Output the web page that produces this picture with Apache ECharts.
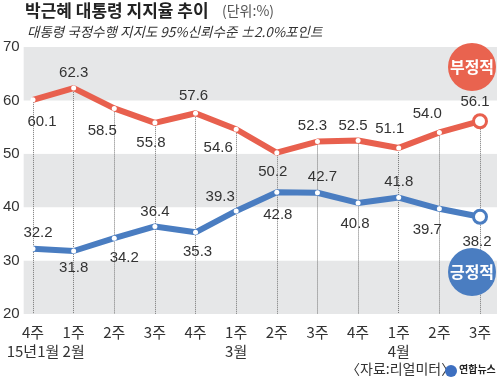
<!DOCTYPE html>
<html><head><meta charset="utf-8">
<script src="https://cdn.jsdelivr.net/npm/echarts@6/dist/echarts.min.js"></script>
<style>html,body{margin:0;padding:0;background:#fff}#c{width:500px;height:381px}</style>
</head><body><div id="c"></div>
<script>
const weeks = ['4주','1주','2주','3주','4주','1주','2주','3주','4주','1주','2주','3주'];
const months = ['15년1월','2월','','','','3월','','','','4월','',''];
const negative = [60.1, 62.3, 58.5, 55.8, 57.6, 54.6, 50.2, 52.3, 52.5, 51.1, 54.0, 56.1];
const positive = [32.2, 31.8, 34.2, 36.4, 35.3, 39.3, 42.8, 42.7, 40.8, 41.8, 39.7, 38.2];
const yTicks = [20, 30, 40, 50, 60, 70];

// label offsets (styling)
const negOff = [[9,22],[0,-15],[-12,22],[-4,20],[-2,-17],[-18,19],[-4,19],[-5,-16],[-5,-15],[-9,-19],[-12,-19],[-5,-19]];
const posOff = [[5,-16],[0,17],[10,20],[0,-15],[2,20],[-16,-14],[1,23],[5,-16],[-3,21],[0,-16],[-12,21],[-3,25]];

const RED = '#e8604e', BLUE = '#4a7dc1';
const numFont = '"Liberation Sans", Arial, sans-serif';
const krFont = '"Noto Sans CJK KR", sans-serif';

function mk(vals, offs, color) {
  return vals.map((v, i) => {
    const last = i === vals.length - 1;
    return {
      value: v,
      symbolSize: last ? 13 : 5,
      itemStyle: last ? {color: '#fff', borderColor: color, borderWidth: 3} : {color: '#fff', borderWidth: 0},
      label: {show: true, position: 'inside', offset: offs[i], formatter: v.toFixed(1),
        color: '#333', fontSize: 15, fontFamily: numFont}
    };
  });
}

const chart = echarts.init(document.getElementById('c'));
chart.setOption({
  animation: false,
  grid: [
    {left: 23, right: 3, top: 47, bottom: 67},
    {left: 33, right: 20, top: 47, bottom: 67}
  ],
  xAxis: [
    {gridIndex: 0, type: 'category', data: weeks, show: false},
    {gridIndex: 1, type: 'category', boundaryGap: false,
     data: weeks.map((w, i) => months[i] ? w + '\n' + months[i] : w),
     axisLine: {show: false}, axisTick: {show: false},
     axisLabel: {interval: 0, margin: 9, color: '#333', fontSize: 15, lineHeight: 19, fontFamily: krFont}}
  ],
  yAxis: [
    {gridIndex: 0, type: 'value', min: yTicks[0], max: yTicks[yTicks.length-1], interval: 10,
     axisLine: {show: false}, axisTick: {show: false}, splitLine: {show: false},
     splitArea: {show: true, areaStyle: {color: ['#e6e7e8', '#ffffff']}},
     axisLabel: {margin: 4, color: '#333', fontSize: 15, fontFamily: numFont, verticalAlign: 'middle'}},
    {gridIndex: 1, type: 'value', min: yTicks[0], max: yTicks[yTicks.length-1], interval: 10, show: false}
  ],
  series: [
    {type: 'line', xAxisIndex: 1, yAxisIndex: 1, data: negative, symbol: 'none',
     lineStyle: {opacity: 0}, silent: true, z: 1, zlevel: 0,
     markLine: {silent: true, symbol: 'none', label: {show: false}, z: 1,
       lineStyle: {color: '#777', type: 'dotted', width: 1},
       data: negative.map((v, i) => [{coord: [i, v]}, {coord: [i, yTicks[0]]}])}},
    {type: 'line', xAxisIndex: 1, yAxisIndex: 1, data: mk(negative, negOff, RED),
     symbol: 'circle', lineStyle: {color: RED, width: 6}, z: 3},
    {type: 'line', xAxisIndex: 1, yAxisIndex: 1, data: mk(positive, posOff, BLUE),
     symbol: 'circle', lineStyle: {color: BLUE, width: 6}, z: 4}
  ],
  graphic: [
    {type: 'text', left: 25, top: 2, style: {text: '박근혜 대통령 지지율 추이', font: 'bold 17px "Noto Sans CJK KR"', fill: '#222'}},
    {type: 'text', left: 222, top: 4, style: {text: '(단위:%)', font: '14px "Noto Sans CJK KR"', fill: '#555'}},
    {type: 'text', left: 27, top: 25, style: {text: '대통령 국정수행 지지도 95%신뢰수준 ±2.0%포인트', font: 'italic 13.5px "Noto Sans CJK KR"', fill: '#333'}},
    {type: 'circle', shape: {cx: 472, cy: 67, r: 24}, style: {fill: '#e9634f'}, z: 10},
    {type: 'text', x: 472, y: 67, style: {text: '부정적', font: 'bold 16px "Noto Sans CJK KR"', fill: '#fff', align: 'center', verticalAlign: 'middle'}, z: 11},
    {type: 'circle', shape: {cx: 472, cy: 272, r: 24}, style: {fill: '#4a7dc1'}, z: 10},
    {type: 'text', x: 472, y: 272, style: {text: '긍정적', font: 'bold 16px "Noto Sans CJK KR"', fill: '#fff', align: 'center', verticalAlign: 'middle'}, z: 11},
    {type: 'text', left: 346, top: 362, style: {text: '〈자료:리얼미터〉', font: '14px "Noto Sans CJK KR"', fill: '#333'}},
    {type: 'circle', shape: {cx: 451, cy: 371, r: 6}, style: {fill: '#3d6fc0'}},
    {type: 'text', left: 459, top: 364, style: {text: '연합뉴스', font: 'bold 10px "Noto Sans CJK KR"', fill: '#222'}}
  ]
});
</script></body></html>
